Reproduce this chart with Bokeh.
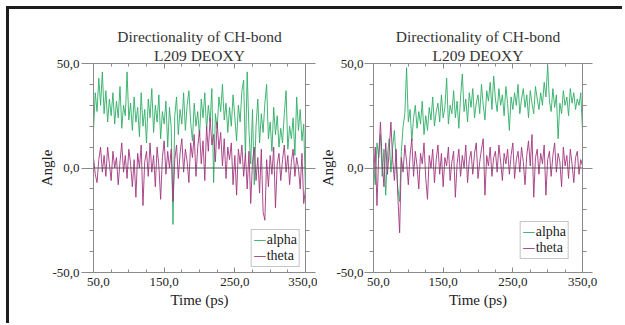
import numpy as np
from bokeh.plotting import figure
from bokeh.models import (FixedTicker, LinearAxis, Span, Legend, LegendItem, Title, Spacer,
                          CustomLabelingPolicy)
from bokeh.layouts import row
from bokeh.embed import file_html
from bokeh.resources import INLINE

# ---------------- data ----------------
time_ps = np.arange(50.0, 350.01, 2.5)   # sampling times, 121 points

alpha_L = [18, 36, 27, 43, 30, 46, 26, 37, 22, 33,
           25, 36, 21, 32, 24, 39, 19, 30, 25, 46,
           23, 31, 18, 34, 22, 29, 15, 36, 20, 28,
           12, 33, 24, 38, 17, 30, 22, 35, 14, 27,
           21, 32, 10, 29, 19, -27, 25, 34, 16, 28,
           21, 36, 18, 30, 37, 22, 13, 31, 20, 27,
           15, 33, 24, 36, 18, 30, 22, 38, -7, 26,
           19, 34, 27, 40, 23, 31, 17, 29, 20, 35,
           24, 13, 30, 22, 37, 42, 5, 46, 18, 2,
           28, -8, 20, 33, 12, 26, 17, 31, 40, 14,
           22, 8, 29, 16, 25, 10, 19, 12, 26, 37,
           9, 20, 14, 24, 6, 34, 18, 28, 13, 21,
           -12]
theta_L = [5, -3, -7, 4, 10, -2, 6, -4, 10, 2,
           -6, 8, 0, 5, -8, 3, 12, -2, 6, -5,
           9, 2, -9, 4, -14, 7, 0, 11, -18, 3,
           8, -4, 12, -2, 6, -9, 10, 1, -15, 5,
           13, -3, 8, 0, 9, -16, 4, 11, -5, 7,
           14, -2, 9, 3, -7, 12, 5, 16, -4, 10,
           18, 2, 13, -6, 20, 8, 24, 11, 16, 3,
           22, 9, 17, 1, 14, -5, 10, 4, 12, -8,
           6, -13, 9, 2, 11, -4, 7, -10, 8, -17,
           3, 10, -6, 5, -12, 9, -21, -25, 4, -9,
           6, -3, 10, -19, 2, 7, -6, 4, 11, -2,
           6, -8, 3, 9, -4, 5, 0, -10, 7, -17,
           -10]
alpha_R = [2, -8, 12, 5, 16, -4, 9, -13, 6, 14,
           -2, 10, 18, 3, -10, -16, 8, 20, 26, 48,
           22, 28, 13, 24, 30, 19, 27, 21, 32, 16,
           25, 18, 29, 23, 34, 20, 27, 31, 22, 35,
           24, 29, 43, 21, 30, 26, 37, 24, 32, 19,
           34, 45, 27, 33, 22, 36, 29, 38, 24, 31,
           35, 26, 40, 30, 23, 37, 32, 41, 28, 44,
           33, 27, 38, 30, 35, 25, 39, 31, 18, 34,
           28, 36, 30, 40, 26, 33, 38, 29, 35, 24,
           37, 31, 26, 39, 33, 28, 36, 30, 41, 34,
           49, 32, 27, 38, 29, 35, 14, 31, 26, 37,
           30, 34, 25, 38, 31, 36, 28, 33, 30, 36,
           18]
theta_R = [-5, 10, -18, 6, 22, 3, -9, 12, -3, 8,
           22, 4, -6, 9, -14, -31, 5, -2, 11, 3,
           -8, 6, 14, -4, 8, 1, -10, 7, 2, 12,
           -5, -15, 6, 0, 9, -7, 4, 11, -3, 7,
           -9, 5, 1, 10, -6, 3, 8, -14, 2, 9,
           -4, 6, 0, 11, -7, 4, 8, -3, 7, 12,
           -5, 3, 9, 14, -13, 6, 1, 10, -4, 5,
           8, -2, 11, 3, -6, 7, 2, 9, -3, 6,
           12, -5, 4, 8, -2, 10, 3, -8, 6, 13,
           1, 16, -14, 5, 9, -3, 7, 2, 11, -13,
           4, 8, -4, 6, 12, -2, 7, 3, -9, 10,
           1, 6, -5, 9, 2, -7, 5, 8, -3, 4,
           1]

title_line1 = "Directionality of CH-bond"
title_line2 = "L209 DEOXY"
x_label = "Time (ps)"
y_label = "Angle"
series_names = ["alpha", "theta"]
x_major = [50, 150, 250, 350]
x_major_labels = ["50,0", "150,0", "250,0", "350,0"]
x_minor = [75, 100, 125, 175, 200, 225, 275, 300, 325]
y_major = [-50, 0, 50]
y_major_labels = ["-50,0", "0,0", "50,0"]
y_minor = [-40, -30, -20, -10, 10, 20, 30, 40]

# ---------------- style ----------------
FONT = "Liberation Serif"
AX = "#8a8a8a"
TXT = "#222222"
GREEN = "#2fae66"
PURPLE = "#a2367f"
H = 314
TOP = 54
FH = 209
NBSP = "\u00a0"

NO_LABELS = """
try { for (const i of Array.from(indices)) { indices.unset(i) } } catch (e) {}
return indices
"""


def style_axis(ax, tick_in_major, tick_in_minor, tick_out_major, tick_out_minor):
    ax.axis_line_color = AX
    ax.major_tick_line_color = AX
    ax.minor_tick_line_color = AX
    ax.major_tick_in = tick_in_major
    ax.minor_tick_in = tick_in_minor
    ax.major_tick_out = tick_out_major
    ax.minor_tick_out = tick_out_minor
    ax.major_label_text_font = FONT
    ax.major_label_text_font_size = "13px"
    ax.major_label_text_color = TXT
    ax.axis_label_text_font = FONT
    ax.axis_label_text_font_size = "15px"
    ax.axis_label_text_font_style = "normal"
    ax.axis_label_text_color = TXT
    ax.axis_label_standoff = 0


def make_panel(width, mb_left, mb_right, a, th, ytick_out, ystand, ylab_standoff, title_off, leg_margin):
    p = figure(width=width, height=H, x_range=(50, 350), y_range=(-50, 50), title=None,
               output_backend="svg", toolbar_location=None,
               min_border_left=mb_left, min_border_right=mb_right,
               min_border_top=TOP, min_border_bottom=H - TOP - FH)
    p.grid.visible = False
    p.outline_line_color = None
    p.background_fill_color = "white"
    p.border_fill_color = "white"

    xt = FixedTicker(ticks=x_major, minor_ticks=x_minor)
    yt = FixedTicker(ticks=y_major, minor_ticks=y_minor)

    xa = p.xaxis[0]
    xa.ticker = xt
    style_axis(xa, 5, 3, 0, 0)
    # the first label sits a little right of its tick in the original
    xa.major_label_overrides = {t: ((NBSP * 3 + l) if t == x_major[0] else l)
                                for t, l in zip(x_major, x_major_labels)}
    xa.major_label_standoff = 1
    xa.axis_label = x_label

    ya = p.yaxis[0]
    ya.ticker = yt
    style_axis(ya, 0, 0, ytick_out, 4)
    ya.major_label_overrides = {t: l for t, l in zip(y_major, y_major_labels)}
    ya.major_label_standoff = ystand
    ya.axis_label = y_label
    ya.axis_label_standoff = ylab_standoff

    top = LinearAxis(ticker=xt)
    style_axis(top, 5, 3, 0, 0)
    top.major_label_text_font_size = "0px"
    top.major_label_standoff = 0
    top.major_label_policy = CustomLabelingPolicy(code=NO_LABELS)
    p.add_layout(top, "above")

    right = LinearAxis(ticker=yt)
    style_axis(right, 0, 0, 10, 4)
    right.major_label_text_font_size = "0px"
    right.major_label_standoff = 0
    right.major_label_policy = CustomLabelingPolicy(code=NO_LABELS)
    p.add_layout(right, "right")

    ra = p.line(time_ps, a, line_color=GREEN, line_width=1, line_alpha=0.9)
    rt = p.line(time_ps, th, line_color=PURPLE, line_width=1, line_alpha=0.9)

    p.add_layout(Span(location=0, dimension="width", line_color="#555555", line_width=1))

    leg = Legend(items=[LegendItem(label=series_names[0], renderers=[ra]),
                        LegendItem(label=series_names[1], renderers=[rt])],
                 location="bottom_right", margin=leg_margin, padding=2, spacing=0,
                 label_text_font=FONT, label_text_font_size="14px", label_text_color=TXT,
                 label_height=12, glyph_height=12, glyph_width=12, label_standoff=1,
                 border_line_color=AX, border_line_width=1,
                 background_fill_color="white", background_fill_alpha=1.0)
    p.add_layout(leg)

    # two-line title, nearest line first
    p.add_layout(Title(text=title_line2, align="center", offset=title_off, standoff=0,
                       text_font=FONT, text_font_size="15.5px", text_font_style="normal",
                       text_color="#333333"), "above")
    p.add_layout(Title(text=title_line1, align="center", offset=title_off, standoff=0,
                       text_font=FONT, text_font_size="15.5px", text_font_style="normal",
                       text_color="#333333"), "above")
    return p


p1 = make_panel(308, 84, 12, alpha_L, theta_L, 12, 2, -6, -4, 5)
p2 = make_panel(283, 55, 18, alpha_R, theta_R, 9, 1, -3, 5.5, 13)

layout = row(p1, p2, Spacer(width=22, height=10),
             styles={"border-top": "3px solid #1c1c1c", "border-left": "3px solid #1c1c1c",
                     "margin-left": "6px", "margin-top": "6px"})

open("out.html", "w").write(file_html(layout, INLINE))
